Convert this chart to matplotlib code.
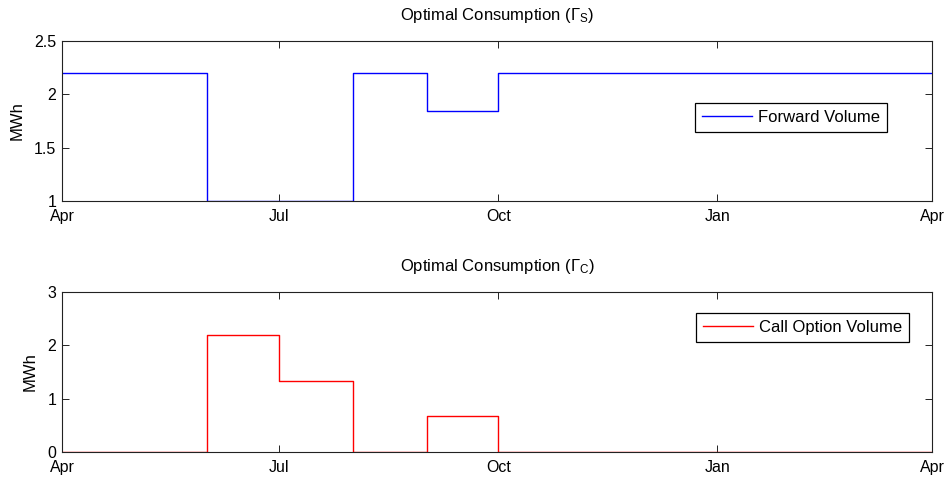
import matplotlib
matplotlib.use("Agg")
import matplotlib.pyplot as plt
import matplotlib.dates as mdates
from datetime import date

plt.rcParams['font.family'] = ['Liberation Sans', 'DejaVu Sans']
plt.rcParams['mathtext.default'] = 'regular'
plt.rcParams['font.size'] = 11.5

months = [date(2010, m, 1) for m in range(4, 13)] + [date(2011, m, 1) for m in range(1, 5)]
forward_volume = [2.2, 2.2, 1.0, 1.0, 2.2, 1.84, 2.2, 2.2, 2.2, 2.2, 2.2, 2.2]
call_volume = [0, 0, 2.2, 1.33, 0, 0.67, 0, 0, 0, 0, 0, 0]
xtick_dates = [date(2010, 4, 1), date(2010, 7, 1), date(2010, 10, 1), date(2011, 1, 1), date(2011, 4, 1)]

fig = plt.figure(figsize=(9.48, 4.78), dpi=100)
ax1 = fig.add_axes([62/948, 1-201/478, 870/948, 160/478])
ax2 = fig.add_axes([62/948, 1-452/478, 870/948, 160/478])

def style(ax):
    ax.set_xlim(months[0], months[-1])
    ax.set_xticks(xtick_dates)
    ax.xaxis.set_major_formatter(mdates.DateFormatter('%b'))
    ax.tick_params(direction='in', top=True, right=True, length=5, width=0.6, pad=4, labelsize=11.5)
    ax.tick_params(axis='x', pad=6)
    for s in ax.spines.values():
        s.set_linewidth(0.8)
        s.set_color('#222222')
    ax.set_ylabel('MWh', fontsize=12, labelpad=7)

def add_legend(ax, anchor):
    leg = ax.legend(loc='center right', bbox_to_anchor=anchor, fancybox=False, edgecolor='black',
                    framealpha=1, handlelength=3.0, handletextpad=0.4, borderpad=0.4,
                    borderaxespad=0, fontsize=12)
    leg.get_frame().set_linewidth(0.9)

ax1.step(months, forward_volume + [forward_volume[-1]], where='post', color='#0000ff', lw=1.0, label='Forward Volume')
ax1.set_ylim(1, 2.5)
ax1.set_yticks([1, 1.5, 2, 2.5])
ax1.set_yticklabels(['1', '1.5', '2', '2.5'])
style(ax1)
ax1.set_title(r'Optimal Consumption ($\Gamma_S$)', fontsize=12, pad=15)
add_legend(ax1, ((887 - 62) / 870, (201 - 117.5) / 160))

ax2.step(months, call_volume + [call_volume[-1]], where='post', color='#ff0000', lw=1.0, label='Call Option Volume')
ax2.set_ylim(0, 3)
ax2.set_yticks([0, 1, 2, 3])
style(ax2)
ax2.set_title(r'Optimal Consumption ($\Gamma_C$)', fontsize=12, pad=15)
add_legend(ax2, ((909 - 62) / 870, (452 - 327.5) / 160))

fig.savefig('out.png', dpi=100)
